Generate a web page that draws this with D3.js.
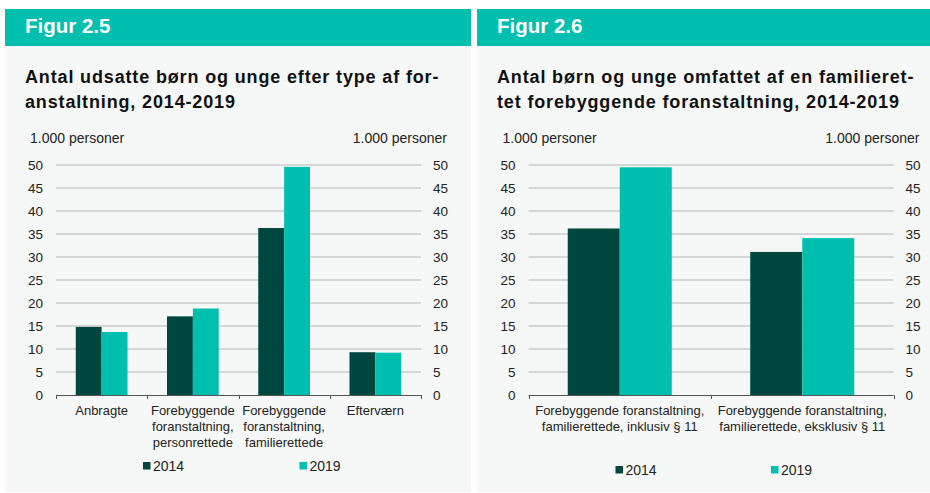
<!DOCTYPE html>
<html>
<head>
<meta charset="utf-8">
<script src="https://cdn.jsdelivr.net/npm/d3@7"></script>
<style>
  body { margin: 0; background: #fff; font-family: "Liberation Sans", Arial, sans-serif; }
  svg text { font-family: "Liberation Sans", Arial, sans-serif; }
</style>
</head>
<body>
<div id="chart"></div>
<script>
// data
var years = ["2014", "2019"];
var cats25 = [
  ["Anbragte"],
  ["Forebyggende", "foranstaltning,", "personrettede"],
  ["Forebyggende", "foranstaltning,", "familierettede"],
  ["Efterværn"]
];
var values25_2014 = [14.8, 17.1, 36.3, 9.3];
var values25_2019 = [13.7, 18.8, 49.6, 9.2];

var cats26 = [
  ["Forebyggende foranstaltning,", "familierettede, inklusiv § 11"],
  ["Forebyggende foranstaltning,", "familierettede, eksklusiv § 11"]
];
var values26_2014 = [36.2, 31.1];
var values26_2019 = [49.5, 34.1];

var yTicks = [0, 5, 10, 15, 20, 25, 30, 35, 40, 45, 50];

var colors = { "2014": "#00483f", "2019": "#00bfae" };
var headerColor = "#00bfae";
var panelBg = "#f6f8f8";

var svg = d3.select("#chart").append("svg").attr("width", 930).attr("height", 493);

function drawPanel(opt) {
  var g = svg.append("g");
  // header + panel bg
  g.append("rect").attr("x", opt.x0).attr("y", 9).attr("width", opt.x1 - opt.x0).attr("height", 37).attr("fill", headerColor);
  g.append("rect").attr("x", opt.x0).attr("y", 46).attr("width", opt.x1 - opt.x0).attr("height", 446).attr("fill", panelBg);
  g.append("text").attr("x", opt.x0 + 20).attr("y", 33)
    .attr("fill", "#fff").attr("font-size", "20.5px").attr("font-weight", "bold").text(opt.fig);

  opt.title.forEach(function(t, i) {
    g.append("text").attr("x", opt.x0 + 20).attr("y", 83 + i * 24.5)
      .attr("fill", "#111").attr("font-size", "18px").attr("font-weight", "bold")
      .attr("letter-spacing", "0.85px").text(t);
  });

  var left = opt.plotL, right = opt.plotR, top = 165, bottom = 395;

  g.append("text").attr("x", left - 26).attr("y", 143).attr("font-size", "14px").attr("fill", "#222").text("1.000 personer");
  g.append("text").attr("x", right + 26).attr("y", 143).attr("text-anchor", "end").attr("font-size", "14px").attr("fill", "#222").text("1.000 personer");

  var y = d3.scaleLinear().domain([0, 50]).range([bottom, top]);
  var x0 = d3.scaleBand().domain(d3.range(opt.cats.length)).range([left, right]).paddingInner(0).paddingOuter(0);
  var x1 = d3.scaleBand().domain(years).range([0, x0.bandwidth() * opt.groupFrac]);
  var off = x0.bandwidth() * (1 - opt.groupFrac) / 2;

  // gridlines
  g.append("g").selectAll("line").data(yTicks.slice(1)).enter().append("line")
    .attr("x1", left).attr("x2", right)
    .attr("y1", function(d) { return y(d); }).attr("y2", function(d) { return y(d); })
    .attr("stroke", "#b4b4b4").attr("stroke-width", 1);

  // y axes (labels only)
  var axL = g.append("g").attr("transform", "translate(" + left + ",0)")
    .call(d3.axisLeft(y).tickValues(yTicks).tickSize(0).tickPadding(13));
  var axR = g.append("g").attr("transform", "translate(" + right + ",0)")
    .call(d3.axisRight(y).tickValues(yTicks).tickSize(0).tickPadding(12));
  [axL, axR].forEach(function(a) {
    a.select(".domain").remove();
    a.selectAll("text").attr("font-size", "13.5px").attr("fill", "#222");
  });

  // bars
  var series = [opt.v2014, opt.v2019];
  years.forEach(function(yr, si) {
    g.append("g").selectAll("rect").data(series[si]).enter().append("rect")
      .attr("x", function(d, i) { return x0(i) + off + x1(yr); })
      .attr("width", x1.bandwidth())
      .attr("y", function(d) { return y(d); })
      .attr("height", function(d) { return bottom - y(d); })
      .attr("fill", colors[yr]);
  });

  // x axis with ticks at category boundaries
  var bounds = d3.range(opt.cats.length + 1).map(function(i) { return left + i * x0.bandwidth(); });
  var xa = g.append("g");
  xa.append("line").attr("x1", left).attr("x2", right).attr("y1", bottom + 0.5).attr("y2", bottom + 0.5)
    .attr("stroke", "#555").attr("stroke-width", 1);
  xa.selectAll(".tk").data(bounds).enter().append("line")
    .attr("x1", function(d) { return Math.round(d) + 0.5; }).attr("x2", function(d) { return Math.round(d) + 0.5; })
    .attr("y1", bottom).attr("y2", bottom + 4)
    .attr("stroke", "#555");

  // category labels
  opt.cats.forEach(function(lines, i) {
    var t = g.append("text").attr("x", x0(i) + x0.bandwidth() / 2).attr("y", 415)
      .attr("text-anchor", "middle").attr("font-size", "13px").attr("fill", "#222");
    lines.forEach(function(l, j) {
      t.append("tspan").attr("x", x0(i) + x0.bandwidth() / 2).attr("dy", j === 0 ? 0 : 16).text(l);
    });
  });

  // legend
  opt.legendX.forEach(function(lx, i) {
    g.append("rect").attr("x", lx).attr("y", opt.legendY - 4).attr("width", 7.5).attr("height", 7.5).attr("fill", colors[years[i]]);
    g.append("text").attr("x", lx + 10).attr("y", opt.legendY + 5).attr("font-size", "14px").attr("fill", "#222").text(years[i]);
  });
}

drawPanel({
  x0: 5, x1: 471, fig: "Figur 2.5",
  title: ["Antal udsatte børn og unge efter type af for-", "anstaltning, 2014-2019"],
  plotL: 56, plotR: 421, cats: cats25, v2014: values25_2014, v2019: values25_2019,
  groupFrac: 0.567, legendX: [143, 299.5], legendY: 466
});

drawPanel({
  x0: 477, x1: 930, fig: "Figur 2.6",
  title: ["Antal børn og unge omfattet af en familieret-", "tet forebyggende foranstaltning, 2014-2019"],
  plotL: 528.5, plotR: 893.5, cats: cats26, v2014: values26_2014, v2019: values26_2019,
  groupFrac: 0.57, legendX: [615.5, 771], legendY: 470
});
</script>
</body>
</html>
